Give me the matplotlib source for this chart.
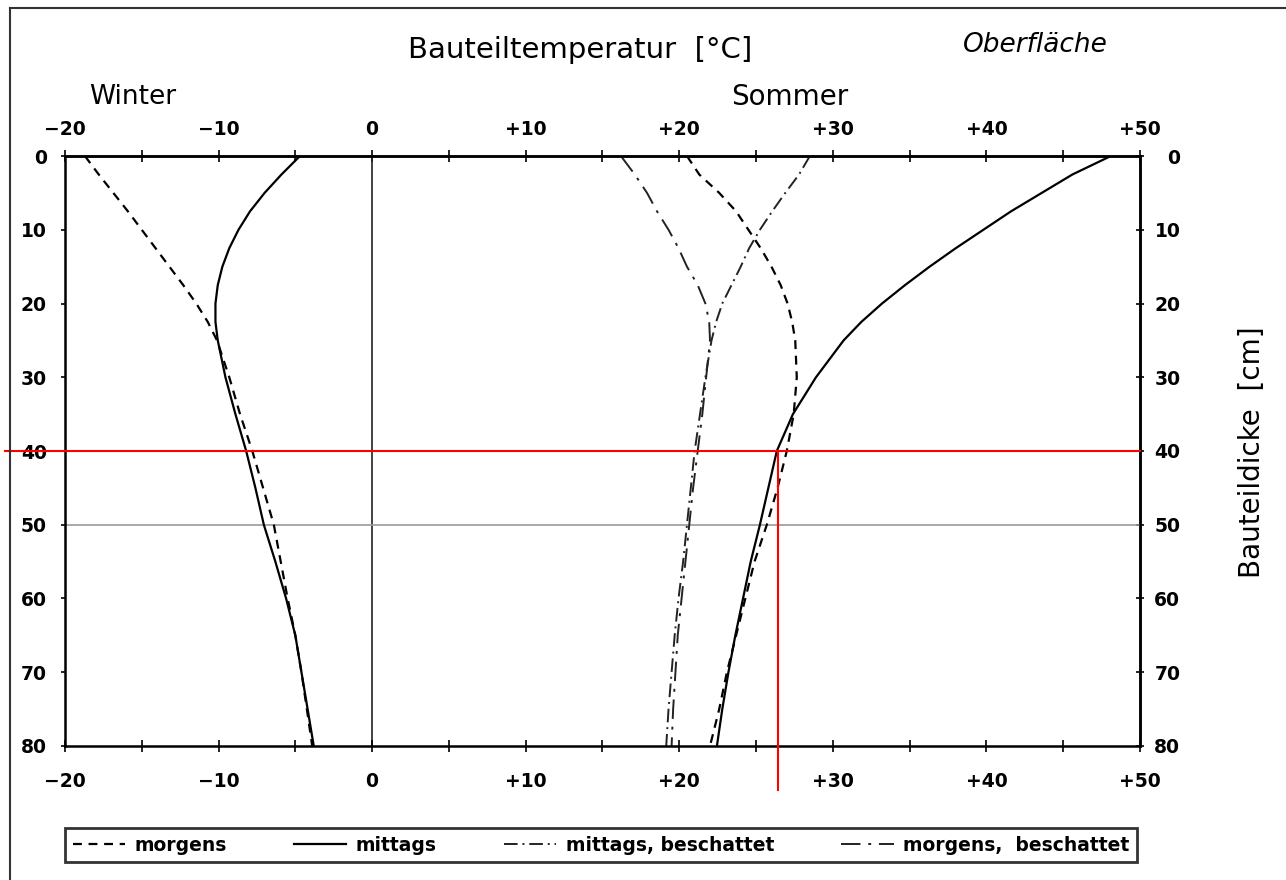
import matplotlib.pyplot as plt
from matplotlib.lines import Line2D

plt.rcParams['font.family'] = ['DejaVu Sans']

# depth into the wall [cm]
depth = [0, 2.5, 5, 7.5, 10, 12.5, 15, 17.5, 20, 22.5, 25, 30, 35, 40, 45, 50, 55, 60, 65, 70, 75, 80]

# temperatures [°C]
winter_morgens = [-18.7, -17.8, -16.85, -15.9, -15.0, -14.1, -13.2, -12.3, -11.45, -10.7, -10.1,
                  -9.3, -8.6, -7.8, -7.1, -6.4, -5.95, -5.5, -5.0, -4.6, -4.25, -3.9]
winter_mittags = [-4.7, -5.9, -7.0, -7.95, -8.7, -9.3, -9.75, -10.05, -10.2, -10.2, -10.05,
                  -9.55, -8.9, -8.2, -7.6, -7.05, -6.3, -5.6, -5.0, -4.6, -4.2, -3.8]
sommer_morgens = [20.5, 21.3, 22.6, 23.7, 24.5, 25.3, 26.0, 26.6, 27.05, 27.35, 27.55,
                  27.65, 27.45, 27.0, 26.4, 25.7, 24.9, 24.3, 23.7, 23.1, 22.6, 22.0]
sommer_mittags = [48.1, 45.6, 43.6, 41.6, 39.8, 38.0, 36.3, 34.7, 33.2, 31.85, 30.7,
                  28.9, 27.4, 26.35, 25.8, 25.25, 24.65, 24.15, 23.65, 23.2, 22.8, 22.45]
mittags_beschattet = [28.5, 27.8, 26.9, 26.05, 25.25, 24.55, 24.0, 23.4, 22.8, 22.4, 22.1,
                      21.7, 21.35, 21.0, 20.75, 20.5, 20.25, 19.95, 19.7, 19.5, 19.3, 19.15]
morgens_beschattet = [16.2, 17.1, 17.9, 18.55, 19.3, 19.95, 20.5, 21.2, 21.7, 21.95, 22.0,
                      21.75, 21.5, 21.2, 20.9, 20.65, 20.4, 20.15, 19.9, 19.75, 19.6, 19.5]

labels = ['morgens', 'mittags', 'mittags, beschattet', 'morgens,  beschattet']

x_ticks = [-20, -10, 0, 10, 20, 30, 40, 50]
x_ticklabels = ['\u221220', '\u221210', '0', '+10', '+20', '+30', '+40', '+50']
x_minor = [-15, -5, 5, 15, 25, 35, 45]
y_ticks = [0, 10, 20, 30, 40, 50, 60, 70, 80]

# red reading marks
mark_depth = 40
mark_temp = 26.4

fig = plt.figure(figsize=(12.86, 8.8), dpi=100)
ax = fig.add_axes([0.0505, 0.1523, 0.836, 0.6704])

# faint reference lines
ax.axvline(0, color='#222', lw=1.2, zorder=1)
ax.axhline(50, color='#999', lw=1.2, zorder=1)

lw = 1.6
l_morg, = ax.plot(winter_morgens, depth, color='k', lw=lw, dashes=(4, 3))
l_mitt, = ax.plot(winter_mittags, depth, color='k', lw=lw)
ax.plot(sommer_morgens, depth, color='k', lw=lw, dashes=(4, 3))
ax.plot(sommer_mittags, depth, color='k', lw=lw)
l_mb, = ax.plot(mittags_beschattet, depth, color='#222', lw=1.4, dashes=(7, 2.5, 1, 2.5))
l_gb, = ax.plot(morgens_beschattet, depth, color='#222', lw=1.4, dashes=(10, 4, 1.5, 4))

ax.axhline(mark_depth, xmin=-0.056, xmax=1, color='red', lw=1.5, clip_on=False, zorder=5)
ax.axvline(mark_temp, ymin=-0.075, ymax=0.5, color='red', lw=1.5, clip_on=False, zorder=5)

ax.set_xlim(-20, 50)
ax.set_ylim(80, 0)

for s in ax.spines.values():
    s.set_linewidth(1.8)

tick_font = dict(fontsize=13.5, fontweight='bold')
ax.set_xticks(x_ticks, x_ticklabels, **tick_font)
ax.set_xticks(x_minor, minor=True)
ax.tick_params(axis='x', which='both', direction='inout', length=8, width=1.2, pad=15)
ax.set_yticks(y_ticks, [str(v) for v in y_ticks], **tick_font)
ax.tick_params(axis='y', direction='out', length=3, width=1.2, pad=10)

top = ax.secondary_xaxis('top')
top.set_xticks(x_ticks, x_ticklabels, **tick_font)
top.set_xticks(x_minor, minor=True)
top.tick_params(axis='x', which='both', direction='inout', length=8, width=1.2, pad=8)
top.spines['top'].set_linewidth(1.8)

right = ax.secondary_yaxis('right')
right.set_yticks(y_ticks, [str(v) for v in y_ticks], ha='right', **tick_font)
right.tick_params(axis='y', direction='inout', length=6, width=1.2, pad=26)
right.spines['right'].set_linewidth(1.8)

fig.text(0.451, 0.9432, 'Bauteiltemperatur  [°C]', fontsize=21, ha='center', va='center')
fig.text(0.8048, 0.9489, 'Oberfläche', fontsize=19, style='italic', ha='center', va='center')
fig.text(0.1034, 0.8898, 'Winter', fontsize=19, ha='center', va='center')
fig.text(0.6143, 0.8898, 'Sommer', fontsize=20, ha='center', va='center')
fig.text(0.9736, 1 - 452 / 880, 'Bauteildicke  [cm]', fontsize=20, rotation=90,
         ha='center', va='center')

leg = fig.legend([l_morg, l_mitt, l_mb, l_gb], labels, ncol=4, loc='lower left',
                 bbox_to_anchor=(65 / 1286, 1 - 862 / 880, 1072 / 1286, 45 / 880),
                 mode='expand', frameon=True, fancybox=False, edgecolor='k',
                 handlelength=2.8, handletextpad=0.5, borderaxespad=0,
                 prop=dict(size=13.5, weight='bold'))
leg.get_frame().set_linewidth(2)

# scan frame (top and left edge)
fig.add_artist(Line2D([10 / 1286, 1], [1 - 8 / 880] * 2, transform=fig.transFigure,
                      color='#333', lw=1.5))
fig.add_artist(Line2D([10 / 1286] * 2, [0, 1 - 8 / 880], transform=fig.transFigure,
                      color='#333', lw=1.5))

fig.savefig('out.png', dpi=100)
